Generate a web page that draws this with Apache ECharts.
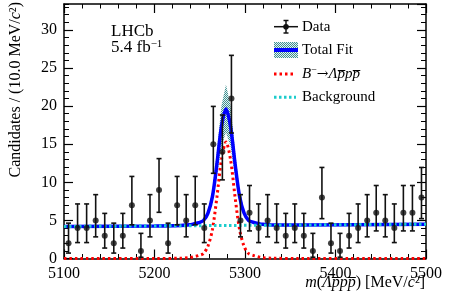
<!DOCTYPE html>
<html><head><meta charset="utf-8">
<script src="https://cdn.jsdelivr.net/npm/echarts@6/dist/echarts.min.js"></script>
<style>html,body{margin:0;padding:0;background:#fff}#c{width:449px;height:308px}</style>
</head><body><div id="c"></div>
<script>
// ---- data ----
const binCenters = [5105,5115,5125,5135,5145,5155,5165,5175,5185,5195,5205,5215,5225,5235,5245,5255,5265,5275,5285,5295,5305,5315,5325,5335,5345,5355,5365,5375,5385,5395,5405,5415,5425,5435,5445,5455,5465,5475,5485,5495];
const counts = [2,4,4,5,3,2,3,7,1,5,9,2,7,5,7,4,15,14,21,5,6,4,5,4,3,4,3,1,8,2,1,3,4,5,6,5,4,6,6,8];
const errLow = [0.71,2.09,2.09,2.84,1.37,0.71,1.37,4.42,0.17,2.84,6.06,0.71,4.42,2.84,4.42,2.09,11.18,10.32,16.47,2.84,3.62,2.09,2.84,2.09,1.37,2.09,1.37,0.17,5.23,0.71,0.17,1.37,2.09,2.84,3.62,2.84,2.09,3.62,3.62,5.23];
const errHigh = [4.64,7.16,7.16,8.38,5.92,4.64,5.92,10.77,3.30,8.38,13.11,4.64,10.77,8.38,10.77,7.16,19.96,18.83,26.66,8.38,9.58,7.16,8.38,7.16,5.92,7.16,5.92,3.30,11.95,4.64,3.30,5.92,7.16,8.38,9.58,8.38,7.16,9.58,9.58,11.95];

const fitMass   = [5100,5200,5229,5239,5244,5249,5254,5259,5264,5269,5274,5279,5284,5289,5294,5299,5304,5309,5314,5319,5329,5360,5500];
const totalFit  = [4.20,4.28,4.34,4.42,4.56,4.71,4.97,5.92,8.12,12.43,17.33,19.63,17.34,12.44,8.15,5.95,5.00,4.76,4.61,4.48,4.41,4.40,4.50];
const signalFit = [0,0,0.04,0.12,0.25,0.40,0.65,1.6,3.8,8.1,13.0,15.3,13.0,8.1,3.8,1.6,0.65,0.40,0.25,0.12,0.04,0,0];
const bkgMass = [5100,5500];
const bkgFit  = [4.2,4.5];
const bandMass = [5239,5244,5249,5254,5259,5264,5269,5274,5279,5284,5289,5294,5299,5304,5309,5314,5319];
const bandLow  = [4.40,4.51,4.63,4.84,5.60,7.36,10.81,14.73,16.57,14.74,10.82,7.39,5.63,4.87,4.68,4.56,4.46];
const bandHigh = [4.45,4.61,4.80,5.10,6.26,8.92,14.13,20.06,22.85,20.07,14.14,8.94,6.29,5.14,4.84,4.66,4.51];
const legendLabels = ['Data','Total Fit','B⁻→Λp̅pp̅','Background'];

// ---- hatch pattern ----
const pc = document.createElement('canvas'); pc.width = 4; pc.height = 4;
const pg = pc.getContext('2d');
pg.fillStyle = '#e4f1f1'; pg.fillRect(0,0,4,4);
pg.fillStyle = '#3e8f8f';
for (let i=0;i<4;i++) for (let j=0;j<4;j++) if ((i+j)%2===0) pg.fillRect(i,j,1,1);
const hatch = {image: pc, repeat: 'repeat'};

const FONT = '"Liberation Serif", "Times New Roman", serif';
const chart = echarts.init(document.getElementById('c'), null, {renderer:'canvas'});

const zip = (a,b) => a.map((v,i)=>[v,b[i]]);
const bandData = bandMass.map((m,i)=>[m,bandLow[i],bandHigh[i]]);
const plain = v => String(v);

const axisCommon = {
  type:'value',
  axisLine:{show:true,onZero:false,lineStyle:{color:'#000',width:1.5}},
  splitLine:{show:false}, minorSplitLine:{show:false}
};

const option = {
  animation:false,
  backgroundColor:'#fff',
  grid:{left:64,right:23,top:4,bottom:49.5,containLabel:false},
  xAxis:[
    Object.assign({}, axisCommon, {min:5100,max:5500,interval:100,position:'bottom',
      axisTick:{show:true,inside:true,length:9,lineStyle:{color:'#000',width:1.2}},
      minorTick:{show:true,splitNumber:5,length:4.5,lineStyle:{color:'#000',width:1}},
      axisLabel:{show:true,formatter:plain,fontFamily:FONT,fontSize:16,color:'#000',margin:7,showMinLabel:true,showMaxLabel:true}}),
    Object.assign({}, axisCommon, {min:5100,max:5500,interval:100,position:'top',
      axisTick:{show:true,inside:true,length:9,lineStyle:{color:'#000',width:1.2}},
      minorTick:{show:true,splitNumber:5,length:4.5,lineStyle:{color:'#000',width:1}},
      axisLabel:{show:false}})
  ],
  yAxis:[
    Object.assign({}, axisCommon, {min:0,max:33.4,interval:5,position:'left',
      axisTick:{show:true,inside:true,length:9,lineStyle:{color:'#000',width:1.2}},
      axisLabel:{show:true,formatter:plain,fontFamily:FONT,fontSize:16,color:'#000',margin:7,showMinLabel:true,showMaxLabel:false}}),
    Object.assign({}, axisCommon, {min:0,max:33.4,interval:1,position:'left',
      axisLine:{show:false},
      axisTick:{show:true,inside:true,length:5,lineStyle:{color:'#000',width:1}},
      axisLabel:{show:false}}),
    Object.assign({}, axisCommon, {min:0,max:33.4,interval:5,position:'right',
      axisTick:{show:true,inside:true,length:9,lineStyle:{color:'#000',width:1.2}},
      axisLabel:{show:false}}),
    Object.assign({}, axisCommon, {min:0,max:33.4,interval:1,position:'right',
      axisLine:{show:false},
      axisTick:{show:true,inside:true,length:5,lineStyle:{color:'#000',width:1}},
      axisLabel:{show:false}})
  ],
  series:[
    {
      type:'custom', name:'band', z:1, silent:true,
      data: bandData,
      encode:{x:0,y:[1,2]},
      renderItem:function(params, api){
        if (params.dataIndex !== 0) return null;
        const up = bandData.map(d=>api.coord([d[0],d[2]]));
        const lo = bandData.slice().reverse().map(d=>api.coord([d[0],d[1]]));
        return {type:'polygon', shape:{points:up.concat(lo)}, style:{fill:hatch, stroke:null}};
      }
    },
    {
      type:'line', name:'Total Fit', z:2, data: zip(fitMass,totalFit),
      showSymbol:false, smooth:0.3, lineStyle:{color:'#0000ff',width:3.5}
    },
    {
      type:'line', name:'Signal', z:3, data: zip(fitMass,signalFit),
      showSymbol:false, smooth:0.3, lineStyle:{color:'#ff0000',width:3,type:[2.5,3]}
    },
    {
      type:'line', name:'Background', z:4, data: zip(bkgMass,bkgFit),
      showSymbol:false, lineStyle:{color:'#1ccccc',width:3,type:[2.5,2.5]}
    },
    {
      type:'custom', name:'errors', z:5, silent:true,
      data: binCenters.map((m,i)=>[m,counts[i],errLow[i],errHigh[i]]),
      encode:{x:0,y:[2,3]},
      renderItem:function(params, api){
        const x = api.value(0);
        const p1 = api.coord([x, api.value(3)]);
        const p2 = api.coord([x, api.value(2)]);
        const cw = 2.5, st = {stroke:'#111', lineWidth:1.6};
        return {type:'group', children:[
          {type:'line', shape:{x1:p1[0],y1:p1[1],x2:p2[0],y2:p2[1]}, style:st},
          {type:'line', shape:{x1:p1[0]-cw,y1:p1[1],x2:p1[0]+cw,y2:p1[1]}, style:st},
          {type:'line', shape:{x1:p2[0]-cw,y1:p2[1],x2:p2[0]+cw,y2:p2[1]}, style:st}
        ]};
      }
    },
    {
      type:'scatter', name:'Data', z:6, data: zip(binCenters,counts),
      symbol:'circle', symbolSize:6, itemStyle:{color:'#111'}
    }
  ],
  graphic:[
    // axis titles
    {type:'text', x:16, y:2, rotation:Math.PI/2, z:10,
      style:{text:'{n|Candidates / (10.0 MeV/}{i|c}{n|²)}', align:'right', verticalAlign:'middle',
        textAlign:'right', textVerticalAlign:'middle', fill:'#000',
        rich:{n:{fontFamily:FONT,fontSize:16,fill:'#000'}, i:{fontFamily:FONT,fontSize:16,fontStyle:'italic',fill:'#000'}}}},
    {type:'text', x:425, y:283, z:10,
      style:{text:'{i|m}{n|(}{i|Λp̅pp̅}{n|) [MeV/}{i|c}{n|²]}', align:'right', verticalAlign:'middle',
        textAlign:'right', textVerticalAlign:'middle', fill:'#000',
        rich:{n:{fontFamily:FONT,fontSize:16,fill:'#000'}, i:{fontFamily:FONT,fontSize:16,fontStyle:'italic',fill:'#000'}}}},
    // LHCb label
    {type:'text', x:111, y:31.5, z:10,
      style:{text:'LHCb', font:'17px '+FONT, fill:'#000', align:'left', verticalAlign:'middle', textAlign:'left', textVerticalAlign:'middle'}},
    {type:'text', x:111, y:47.5, z:10,
      style:{text:'{n|5.4 fb}{s|−1}', align:'left', verticalAlign:'middle', textAlign:'left', textVerticalAlign:'middle',
        rich:{n:{fontFamily:FONT,fontSize:17,fill:'#000',lineHeight:18}, s:{fontFamily:FONT,fontSize:11,fill:'#000',verticalAlign:'top',lineHeight:18}}}},
    // legend: Data
    {type:'line', z:10, shape:{x1:274,y1:26.7,x2:298,y2:26.7}, style:{stroke:'#111',lineWidth:1.5}},
    {type:'line', z:10, shape:{x1:286,y1:20.5,x2:286,y2:33}, style:{stroke:'#111',lineWidth:1.5}},
    {type:'line', z:10, shape:{x1:283.5,y1:20.5,x2:288.5,y2:20.5}, style:{stroke:'#111',lineWidth:1.5}},
    {type:'line', z:10, shape:{x1:283.5,y1:33,x2:288.5,y2:33}, style:{stroke:'#111',lineWidth:1.5}},
    {type:'circle', z:10, shape:{cx:286,cy:26.7,r:2.8}, style:{fill:'#111'}},
    {type:'text', x:302, y:27, z:10, style:{text:legendLabels[0], font:'15px '+FONT, fill:'#000', verticalAlign:'middle', textVerticalAlign:'middle'}},
    // legend: Total fit
    {type:'rect', z:10, shape:{x:274,y:42,width:24,height:16}, style:{fill:hatch}},
    {type:'line', z:11, shape:{x1:274,y1:50,x2:298,y2:50}, style:{stroke:'#0000ff',lineWidth:4}},
    {type:'text', x:302, y:50.5, z:10, style:{text:legendLabels[1], font:'15px '+FONT, fill:'#000', verticalAlign:'middle', textVerticalAlign:'middle'}},
    // legend: signal
    {type:'line', z:10, shape:{x1:274,y1:74,x2:296,y2:74}, style:{stroke:'#ff0000',lineWidth:3,lineDash:[2.5,3]}},
    {type:'text', x:302, y:74, z:10,
      style:{text:'{i|B}{s|−}{a|→}{i|Λp̅pp̅}', verticalAlign:'middle', textVerticalAlign:'middle',
        rich:{n:{fontFamily:FONT,fontSize:15,fill:'#000',lineHeight:17}, i:{fontFamily:FONT,fontSize:15,fontStyle:'italic',fill:'#000',lineHeight:17},
              a:{fontFamily:'"DejaVu Serif", serif',fontSize:14,fill:'#000',lineHeight:17},
              s:{fontFamily:FONT,fontSize:10,fill:'#000',verticalAlign:'top',lineHeight:17}}}},
    // legend: background
    {type:'line', z:10, shape:{x1:274,y1:97.3,x2:296,y2:97.3}, style:{stroke:'#1ccccc',lineWidth:3,lineDash:[2.5,2.5]}},
    {type:'text', x:302, y:97.5, z:10, style:{text:legendLabels[3], font:'15px '+FONT, fill:'#000', verticalAlign:'middle', textVerticalAlign:'middle'}}
  ]
};
chart.setOption(option);
</script>
</body></html>
